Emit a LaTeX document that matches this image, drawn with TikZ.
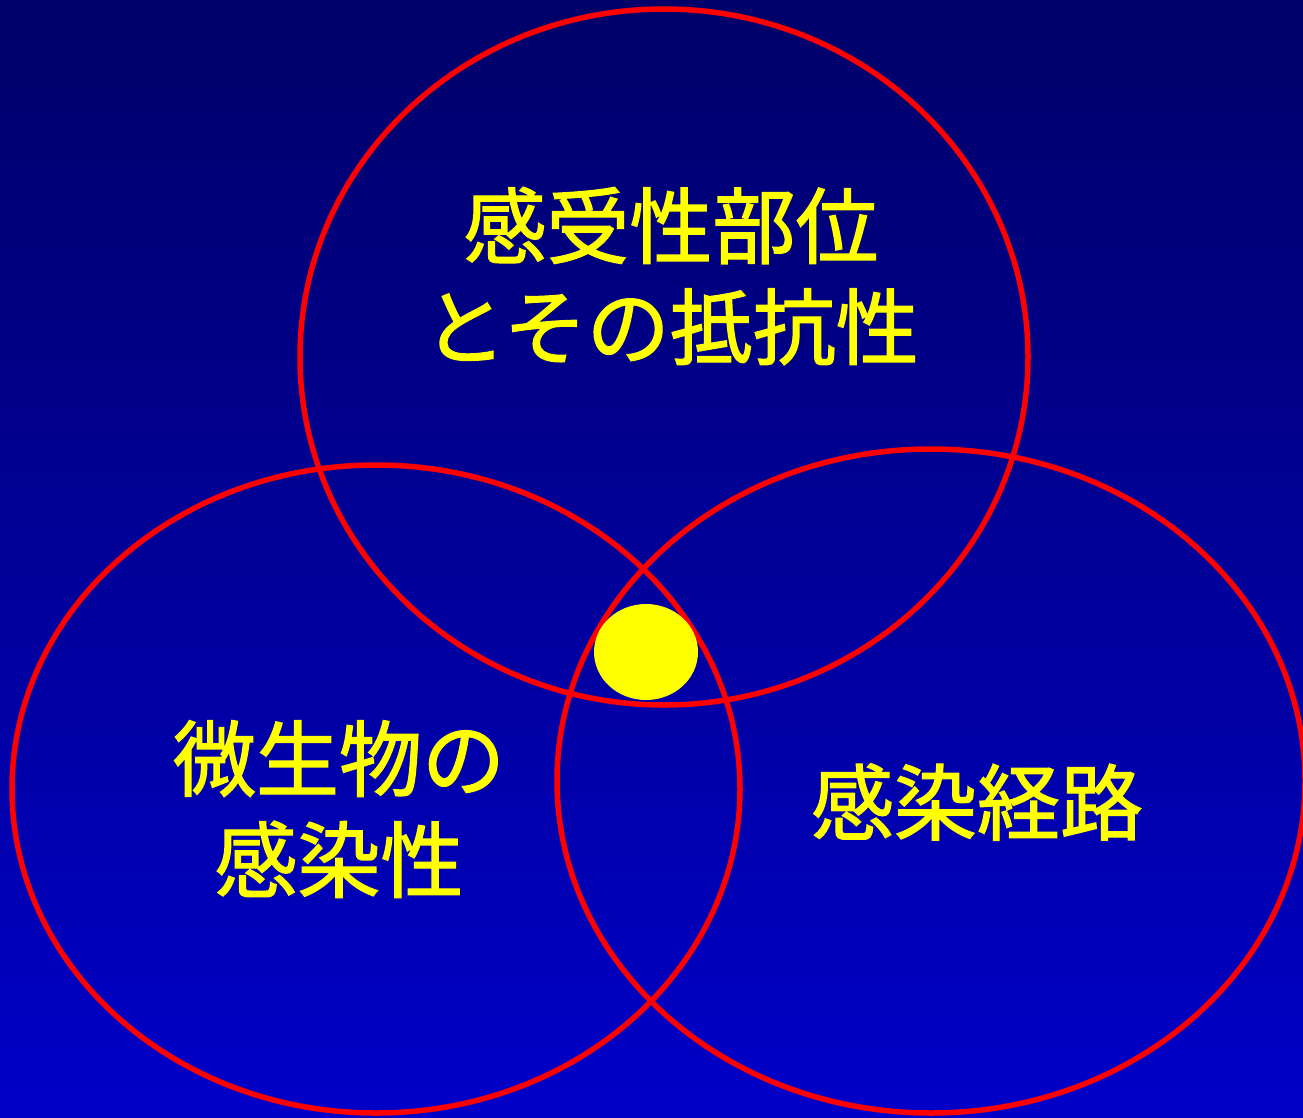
\documentclass[tikz,border=0pt]{standalone}
\usepackage{fontspec}
\newfontfamily\jpfont[FakeBold=1.5]{Noto Sans CJK JP}
\definecolor{bgtop}{HTML}{000068}
\definecolor{bgbot}{HTML}{0000C8}
\definecolor{ringred}{HTML}{FF0000}
\definecolor{txtyellow}{HTML}{FFFF00}
\tikzset{
  ring/.style={draw=ringred, line width=5.5pt},
  label/.style={text=txtyellow, align=center, font=\jpfont\fontsize{83}{101}\selectfont, inner sep=0pt},
}
\begin{document}
\begin{tikzpicture}[x=1pt,y=-1pt]
\useasboundingbox (0,0) rectangle (1303,1118);
\shade[top color=bgtop, bottom color=bgbot] (0,0) rectangle (1303,1118);
\begin{scope}
\clip (0,0) rectangle (1303,1118);
\draw[ring] (664,357) ellipse [x radius=364, y radius=348];
\draw[ring] (376,789) ellipse [x radius=364, y radius=324];
\draw[ring] (931,781) ellipse [x radius=374, y radius=332];
\fill[txtyellow] (646,652) ellipse [x radius=52, y radius=48];
\end{scope}
\node[label] (l1) at (671,276) {感受性部位\\とその抵抗性};
\node[label] (l2) at (339,809) {微生物の\\感染性};
\node[label] (l3) at (977,802) {感染経路};
\end{tikzpicture}
\end{document}
